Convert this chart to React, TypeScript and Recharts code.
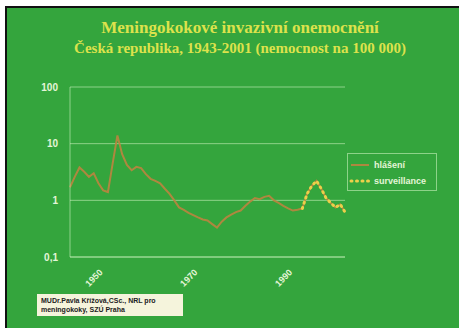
import { LineChart, Line, XAxis, YAxis, CartesianGrid } from 'recharts';

// nemocnost na 100 000 obyvatel, 1943-2001
const years = [
  1943, 1944, 1945, 1946, 1947, 1948, 1949, 1950, 1951, 1952,
  1953, 1954, 1955, 1956, 1957, 1958, 1959, 1960, 1961, 1962,
  1963, 1964, 1965, 1966, 1967, 1968, 1969, 1970, 1971, 1972,
  1973, 1974, 1975, 1976, 1977, 1978, 1979, 1980, 1981, 1982,
  1983, 1984, 1985, 1986, 1987, 1988, 1989, 1990, 1991, 1992,
  1993, 1994, 1995, 1996, 1997, 1998, 1999, 2000, 2001,
];

const hlaseni = [
  1.7, 2.6, 3.8, 3.2, 2.6, 3.0, 2.0, 1.5, 1.4, 4.5,
  14, 6.5, 4.2, 3.4, 3.9, 3.7, 2.9, 2.4, 2.2, 2.0,
  1.6, 1.3, 1.0, 0.75, 0.68, 0.6, 0.55, 0.5, 0.46, 0.44,
  0.38, 0.33, 0.42, 0.5, 0.56, 0.62, 0.66, 0.8, 0.95, 1.1,
  1.05, 1.15, 1.2, 1.0, 0.9, 0.8, 0.72, 0.66, 0.68, 0.72,
  1.3, 1.8, 2.2, 1.6, 1.1, 0.9, 0.75, 0.85, 0.62,
];

// surveillance od roku 1992
const survFrom = 1992;
const surveillance = [0.72, 1.3, 1.8, 2.2, 1.6, 1.1, 0.9, 0.75, 0.85, 0.62];

const yTicks = [0.1, 1, 10, 100];
const xTicks = [1950, 1970, 1990];

const data = years.map((year, i) => ({
  year,
  hlaseni: hlaseni[i],
  surveillance: year >= survFrom ? surveillance[year - survFrom] : undefined,
}));

const GREEN = '#34a53d';
const TITLE = '#dce24c';
const PALE = '#e4f5d8';
const GRID = 'rgba(215,250,200,0.55)';
const LINE = '#bb843f';
const DOTS = '#ecd04a';

const XTick = (props: any) => {
  const { x, y, payload } = props;
  return (
    <g transform={`translate(${x},${y + 8})`}>
      <text
        textAnchor="end"
        transform="rotate(-45)"
        fill={PALE}
        fontSize={9}
        fontWeight="bold"
        fontFamily="Liberation Sans, Arial, sans-serif"
      >
        {payload.value}
      </text>
    </g>
  );
};

export default function App() {
  return (
    <div
      style={{
        position: 'absolute',
        left: 0,
        top: 0,
        width: 459,
        height: 328,
        background: '#fff',
        overflow: 'hidden',
      }}
    >
      <div
        style={{
          position: 'absolute',
          left: 5,
          top: 6,
          right: 0,
          bottom: 0,
          background: GREEN,
          borderLeft: '2px solid #111',
          borderTop: '2px solid #111',
        }}
      />
      <div
        style={{
          position: 'absolute',
          left: 0,
          width: 480,
          top: 18,
          textAlign: 'center',
          color: TITLE,
          fontFamily: 'Liberation Serif, Times New Roman, serif',
          fontWeight: 'bold',
          lineHeight: '20px',
        }}
      >
        <div style={{ fontSize: 17 }}>Meningokokové invazivní onemocnění</div>
        <div style={{ fontSize: 15 }}>Česká republika, 1943-2001 (nemocnost na 100 000)</div>
      </div>

      <div style={{ position: 'absolute', left: 0, top: 0 }}>
        <LineChart
          width={459}
          height={328}
          data={data}
          margin={{ top: 87, right: 114, bottom: 0, left: 0 }}
        >
          <CartesianGrid horizontal vertical={false} stroke={GRID} />
          <XAxis
            dataKey="year"
            type="number"
            domain={[1943, 2001]}
            ticks={xTicks}
            height={71}
            axisLine={{ stroke: GRID }}
            tickLine={false}
            tick={<XTick />}
          />
          <YAxis
            scale="log"
            domain={[0.1, 100]}
            ticks={yTicks}
            allowDataOverflow
            width={70}
            axisLine={{ stroke: GRID }}
            tickLine={false}
            tickMargin={6}
            tickFormatter={(v: number) => String(v).replace('.', ',')}
            tick={{
              fill: PALE,
              fontSize: 10,
              fontWeight: 'bold',
              fontFamily: 'Liberation Sans, Arial, sans-serif',
            }}
          />
          <YAxis
            yAxisId="frame"
            orientation="right"
            width={0}
            tick={false}
            tickLine={false}
            axisLine={{ stroke: GRID }}
          />
          <Line
            type="linear"
            dataKey="hlaseni"
            stroke={LINE}
            strokeOpacity={0.9}
            strokeWidth={2}
            dot={false}
            isAnimationActive={false}
          />
          <Line
            type="linear"
            dataKey="surveillance"
            stroke={DOTS}
            strokeWidth={3}
            strokeDasharray="1 4.5"
            strokeLinecap="round"
            dot={false}
            isAnimationActive={false}
          />
        </LineChart>
      </div>

      <div
        style={{
          position: 'absolute',
          left: 347,
          top: 153,
          width: 88,
          height: 36,
          border: `1px solid ${GRID}`,
          fontFamily: 'Liberation Sans, Arial, sans-serif',
          fontSize: 9,
          fontWeight: 'bold',
          color: PALE,
        }}
      >
        <svg width={88} height={36} style={{ position: 'absolute', left: 0, top: 0 }}>
          <line x1={3} y1={11} x2={21} y2={11} stroke={LINE} strokeOpacity={0.9} strokeWidth={2} />
          <line
            x1={3}
            y1={27}
            x2={21}
            y2={27}
            stroke={DOTS}
            strokeWidth={3}
            strokeDasharray="1 4.5"
            strokeLinecap="round"
          />
          <text x={26} y={14} fill={PALE} fontSize={9}>hlášení</text>
          <text x={26} y={30} fill={PALE} fontSize={9}>surveillance</text>
        </svg>
      </div>

      <div
        style={{
          position: 'absolute',
          left: 37,
          top: 294,
          width: 146,
          height: 22,
          background: '#f5f4dc',
          color: '#222',
          fontFamily: 'Liberation Sans, Arial, sans-serif',
          fontSize: 7,
          fontWeight: 'bold',
          lineHeight: '9px',
          padding: '2px 4px',
          boxSizing: 'border-box',
        }}
      >
        <div>MUDr.Pavla Křížová,CSc., NRL pro</div>
        <div>meningokoky, SZÚ Praha</div>
      </div>
    </div>
  );
}
